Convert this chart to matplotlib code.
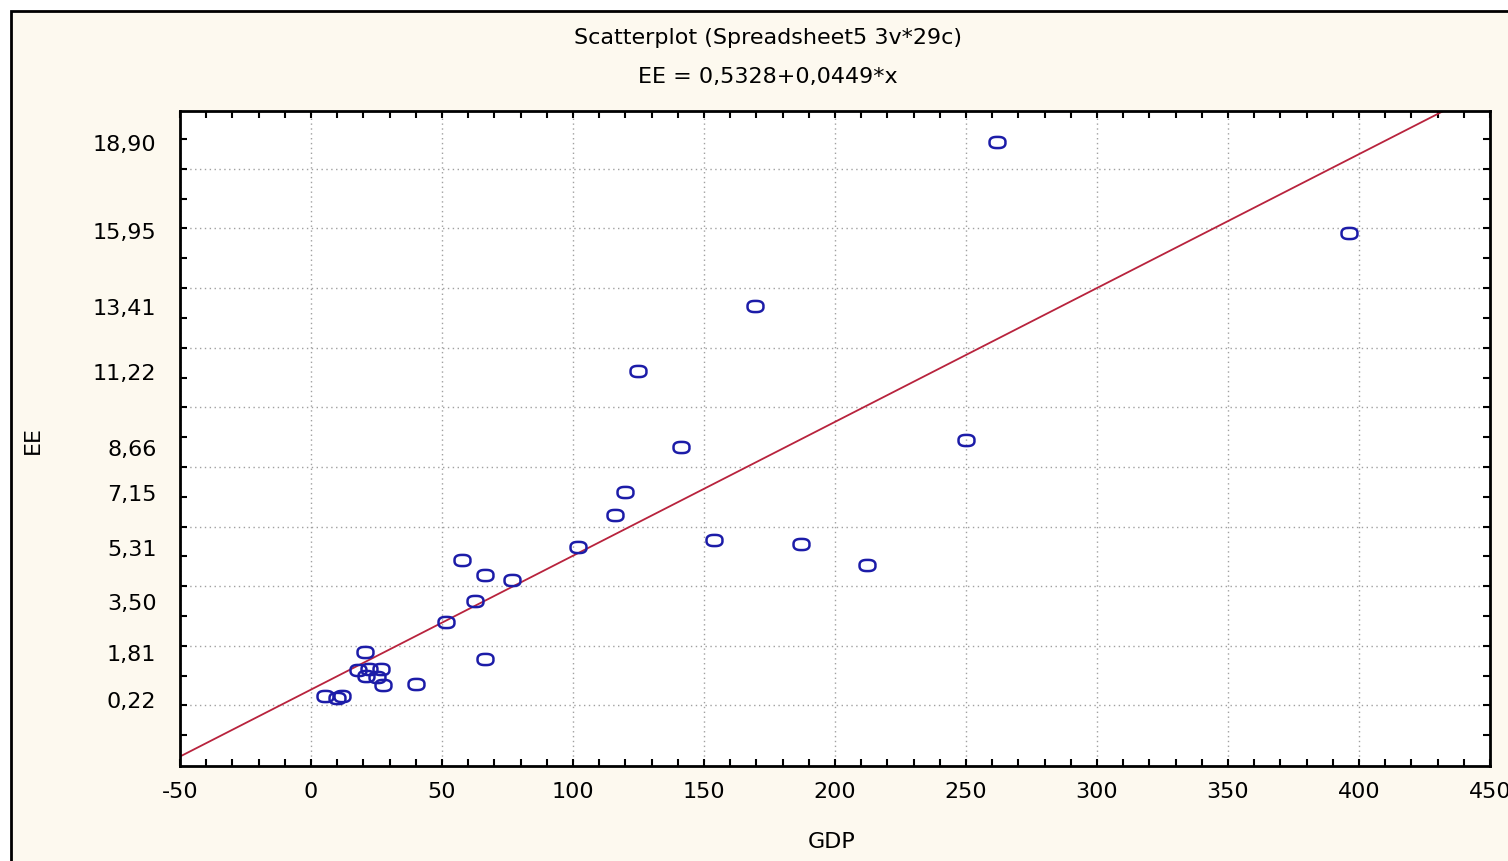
import numpy as np
import matplotlib
matplotlib.use("Agg")
import matplotlib.pyplot as plt
from matplotlib.path import Path
from matplotlib.patches import Rectangle

# data
gdp = [262, 396, 169.5, 124.8, 141.2, 250, 119.8, 116, 101.9, 153.8,
       187, 212.2, 57.6, 66.4, 76.7, 62.6, 51.5, 66.4, 40,
       20.6, 17.9, 22.1, 26.7, 21, 25.2, 27.5, 5.3, 9.9, 11.8]
ee = [18.90, 15.85, 13.41, 11.22, 8.66, 8.90, 7.15, 6.40, 5.31, 5.56,
      5.40, 4.72, 4.89, 4.38, 4.21, 3.50, 2.80, 1.56, 0.73,
      1.81, 1.19, 1.23, 1.23, 1.00, 0.96, 0.69, 0.32, 0.26, 0.32]

intercept = 0.5328
slope = 0.0449

ytick_vals = [0.22, 1.81, 3.50, 5.31, 7.15, 8.66, 11.22, 13.41, 15.95, 18.90]
ytick_labels = [f"{v:.2f}".replace(".", ",") for v in ytick_vals]
xtick_vals = np.arange(-50, 451, 50)

cream = "#fdf9ef"
fs = 16
fig = plt.figure(figsize=(15.08, 8.62), dpi=100, facecolor="white")
fig.patches.append(Rectangle((11 / 1508, -0.05), 1.1, 0.986 + 0.05,
                             transform=fig.transFigure, facecolor=cream,
                             edgecolor="black", linewidth=2, zorder=-10))

ax = fig.add_axes([180 / 1508, 1 - 767 / 862, 1310 / 1508, 655 / 862])
ax.set_facecolor("white")

# rounded, slightly flat open marker like the original
t = np.linspace(0, 2 * np.pi, 60)
c, s = np.cos(t), np.sin(t)
mx = np.sign(c) * np.abs(c) ** 0.75
my = 0.7 * np.sign(s) * np.abs(s) ** 0.75
ell = Path(np.column_stack([mx, my]))

xl = np.array([-50, 450])
ax.plot(xl, intercept + slope * xl, color="#b8233d", lw=1.3, zorder=2)
ax.plot(gdp, ee, linestyle="none", marker=ell, markersize=11.5,
        markerfacecolor="none", markeredgecolor="#1c1ca8", markeredgewidth=1.8,
        zorder=3)

ax.set_xlim(-50, 450)
ax.set_ylim(-2.03, 19.94)

ax.set_xticks(xtick_vals)
ax.set_xticks(np.arange(-50, 451, 10), minor=True)
ax.set_xticklabels([str(v) for v in xtick_vals])
ax.set_yticks(np.arange(0, 19, 2))
ax.set_yticks(np.arange(-1, 20, 2), minor=True)
ax.set_yticklabels([])

ax.tick_params(which="both", direction="in", top=True, right=True,
               length=5, width=1.5, color="black")
ax.tick_params(axis="x", labelsize=fs, pad=11)
ax.grid(True, which="major", linestyle=(0, (1, 2.5)), color="#a0a0a0", lw=1)
for sp in ax.spines.values():
    sp.set_linewidth(2)

# y labels sit at their own values, not on the grid ticks
sec = ax.secondary_yaxis("left")
sec.set_yticks(ytick_vals)
sec.set_yticklabels(ytick_labels)
sec.tick_params(length=0, labelsize=fs, pad=17)
sec.spines["left"].set_visible(False)

fig.text(768 / 1508, 1 - 38 / 862, "Scatterplot (Spreadsheet5 3v*29c)",
         ha="center", va="center", fontsize=fs)
fig.text(768 / 1508, 1 - 77 / 862, "EE = 0,5328+0,0449*x",
         ha="center", va="center", fontsize=fs)
fig.text(832 / 1508, 1 - 842 / 862, "GDP", ha="center", va="center", fontsize=fs)
fig.text(33 / 1508, 1 - 440 / 862, "EE", ha="center", va="center",
         rotation=90, fontsize=fs)

fig.savefig("out.png", dpi=100, facecolor=fig.get_facecolor())
